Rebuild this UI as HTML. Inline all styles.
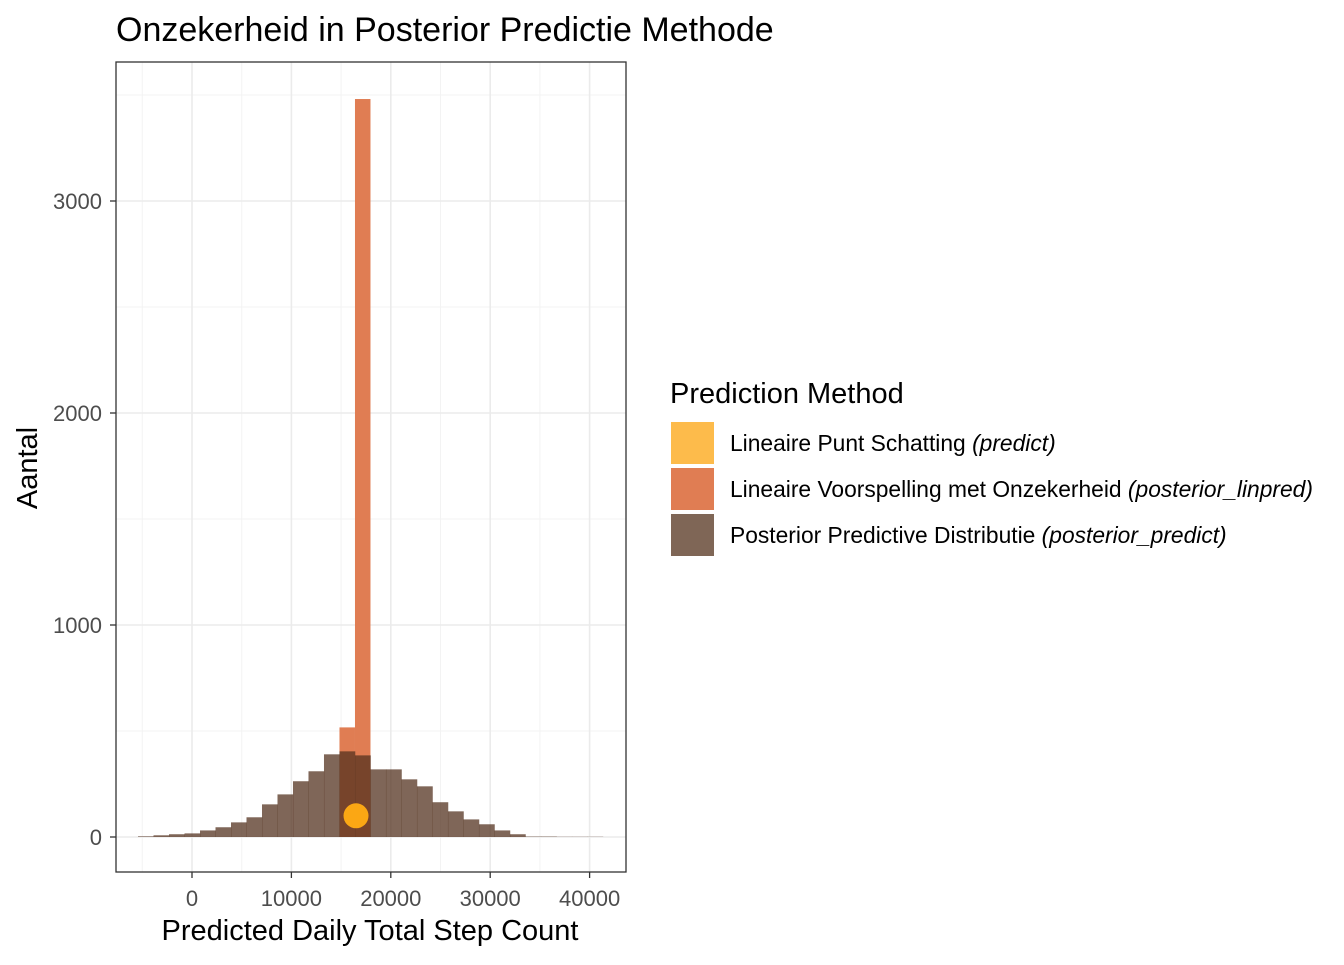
<!DOCTYPE html>
<html><head><meta charset="utf-8"><style>
body{margin:0;background:#fff;font-family:"Liberation Sans",sans-serif;}
text{font-family:"Liberation Sans",sans-serif;}
</style></head><body>
<svg id="chart" width="1344" height="960" xmlns="http://www.w3.org/2000/svg">
<text x="116" y="41" font-size="34" fill="#000">Onzekerheid in Posterior Predictie Methode</text>
<g id="grid"></g>
<g id="bars"></g>
<rect x="116" y="62" width="510" height="810" fill="none" stroke="#333" stroke-width="1.3"/>
<g id="axes"></g>
<text x="370" y="940" font-size="29" text-anchor="middle">Predicted Daily Total Step Count</text>
<text transform="translate(37,468) rotate(-90)" font-size="29" text-anchor="middle">Aantal</text>
<g>
<text x="670" y="403" font-size="29">Prediction Method</text>
<g><rect x="671" y="422" width="43" height="42" fill="#FDBB4B"/><text x="730" y="451" font-size="22.8">Lineaire Punt Schatting <tspan font-style="italic">(predict)</tspan></text></g>
<g><rect x="671" y="468" width="43" height="42" fill="#E07D53"/><text x="730" y="497" font-size="22.8">Lineaire Voorspelling met Onzekerheid <tspan font-style="italic">(posterior_linpred)</tspan></text></g>
<g><rect x="671" y="514" width="43" height="42" fill="#7F6656"/><text x="730" y="543" font-size="22.8">Posterior Predictive Distributie <tspan font-style="italic">(posterior_predict)</tspan></text></g>
</g>
</svg>
<script>
const binStart = -5430;
const binWidth = 1559;
const postPredCounts = [3,8,13,17,31,46,69,93,154,201,263,310,390,404,385,319,319,272,239,164,121,83,60,31,13,2,2,1,1,1];
const linpredCounts = [0,0,0,0,0,0,0,0,0,0,0,0,0,517,3481,0,0,0,0,0,0,0,0,0,0,0,0,0,0,0];
const pointEstimate = [16500, 100];
const xTicks = [0,10000,20000,30000,40000];
const yTicks = [0,1000,2000,3000];
const xMinor = [-5000,5000,15000,25000,35000];
const yMinor = [500,1500,2500,3500];
const X = v => 192 + (v/10000)*99.4;
const Y = v => 837 - v*0.212;
const NS="http://www.w3.org/2000/svg";
function mk(tag, attrs, parent){const e=document.createElementNS(NS,tag);for(const k in attrs)e.setAttribute(k,attrs[k]);parent.appendChild(e);return e;}
const grid=document.getElementById('grid'), bars=document.getElementById('bars'), axes=document.getElementById('axes');
mk('rect',{x:116,y:62,width:510,height:810,fill:'#fff'},grid);
xMinor.forEach(v=>{const l=mk('line',{x1:X(v),x2:X(v),y1:62,y2:872,stroke:'#F3F3F3','stroke-width':1},grid);

});
yMinor.forEach(v=>{const l=mk('line',{x1:116,x2:626,y1:Y(v),y2:Y(v),stroke:'#F3F3F3','stroke-width':1},grid);

});
xTicks.forEach(v=>{const l=mk('line',{x1:X(v),x2:X(v),y1:62,y2:872,stroke:'#EBEBEB','stroke-width':1.6},grid);


const t=mk('line',{x1:X(v),x2:X(v),y1:872,y2:878,stroke:'#333','stroke-width':1.3},axes);


const tx=mk('text',{x:X(v),y:906,'font-size':22,fill:'#4D4D4D','text-anchor':'middle'},axes);tx.textContent=v;

});
yTicks.forEach(v=>{const l=mk('line',{x1:116,x2:626,y1:Y(v),y2:Y(v),stroke:'#EBEBEB','stroke-width':1.6},grid);


const t=mk('line',{x1:110,x2:116,y1:Y(v),y2:Y(v),stroke:'#333','stroke-width':1.3},axes);


const tx=mk('text',{x:102,y:Y(v)+8,'font-size':22,fill:'#4D4D4D','text-anchor':'end'},axes);tx.textContent=v;

});
linpredCounts.forEach((c,i)=>{if(!c)return;const x0=X(binStart+i*binWidth),x1=X(binStart+(i+1)*binWidth);
const r=mk('rect',{x:x0,y:Y(c),width:x1-x0,height:Y(0)-Y(c),fill:'#E07D53'},bars);

});
postPredCounts.forEach((c,i)=>{const x0=X(binStart+i*binWidth),x1=X(binStart+(i+1)*binWidth);
const r=mk('rect',{x:x0,y:Y(c),width:x1-x0+0.3,height:Y(0)-Y(c),fill:'#52311E','fill-opacity':0.74},bars);

});
const p=mk('circle',{cx:X(pointEstimate[0]),cy:Y(pointEstimate[1]),r:12.5,fill:'#FBA714'},bars);


</script>
</body></html>
